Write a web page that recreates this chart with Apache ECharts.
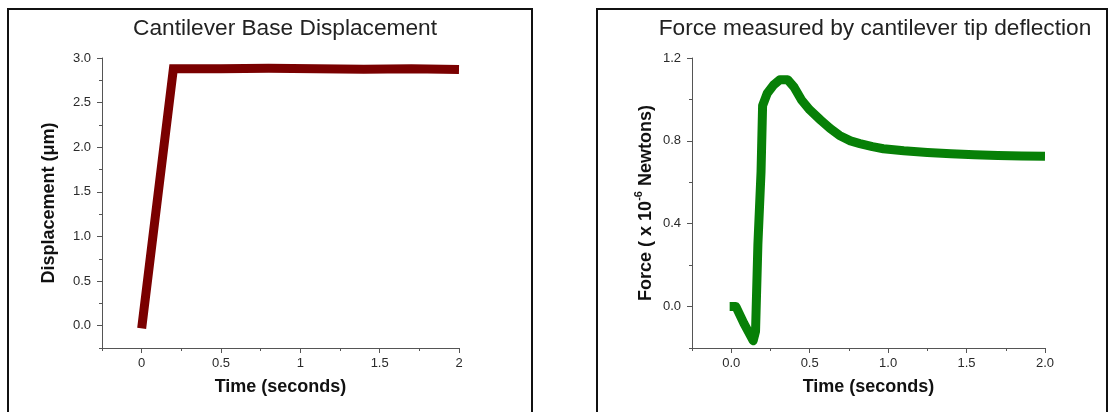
<!DOCTYPE html>
<html>
<head>
<meta charset="utf-8">
<script src="https://cdn.jsdelivr.net/npm/echarts@6/dist/echarts.min.js"></script>
<style>
html,body{margin:0;padding:0;background:#fff;}
#c{width:1118px;height:412px;}
</style>
</head>
<body>
<div id="c"></div>
<script>
// Left chart: cantilever base displacement
const timeA = [0, 0.2, 0.5, 0.8, 1.1, 1.4, 1.7, 2.0];
const dispA = [-0.03, 2.88, 2.88, 2.885, 2.88, 2.875, 2.88, 2.87];
const xTicksA = [0, 0.5, 1, 1.5, 2];
const yTicksA = [0, 0.5, 1, 1.5, 2, 2.5, 3];

// Right chart: force measured by tip deflection (x 10^-6 N)
const timeB = [-0.01, 0.03, 0.08, 0.14, 0.155, 0.17, 0.19, 0.2, 0.23, 0.27, 0.31, 0.36, 0.4, 0.45, 0.5, 0.57, 0.63, 0.69, 0.76, 0.82, 0.9, 0.97, 1.1, 1.25, 1.4, 1.55, 1.7, 1.85, 2.0];
const forceB = [0, 0, -0.08, -0.165, -0.12, 0.3, 0.65, 0.97, 1.03, 1.07, 1.095, 1.095, 1.06, 0.995, 0.95, 0.9, 0.86, 0.826, 0.8, 0.787, 0.772, 0.762, 0.752, 0.744, 0.738, 0.733, 0.729, 0.727, 0.726];
const xTicksB = [0, 0.5, 1, 1.5, 2];
const yTicksB = [0, 0.4, 0.8, 1.2];

const FONT = '"Liberation Sans", Arial, sans-serif';
const axisColor = '#555';
const labelStyle = {color: '#2a2a2a', fontSize: 13, fontFamily: FONT};
const nameStyle = {color: '#111', fontSize: 18, fontWeight: 'bold', fontFamily: FONT};

function pair(xs, ys) { return xs.map((x, i) => [x, ys[i]]); }

function mainX(grid, min, max, ticks, fmt) {
  return {
    type: 'value', gridIndex: grid, min: min, max: max, position: 'bottom',
    name: 'Time (seconds)', nameLocation: 'middle', nameGap: 30, nameTextStyle: nameStyle,
    axisLine: {show: true, onZero: false, lineStyle: {color: axisColor, width: 1}},
    axisTick: {show: true, length: 5, customValues: ticks, lineStyle: {color: axisColor}},
    axisLabel: Object.assign({customValues: ticks, margin: 9, formatter: fmt}, labelStyle),
    splitLine: {show: false}
  };
}
function minorX(grid, min, max, step) {
  return {
    type: 'value', gridIndex: grid, min: min, max: max, interval: step, position: 'bottom',
    axisLine: {show: false, onZero: false},
    axisTick: {show: true, length: 3, lineStyle: {color: axisColor}},
    axisLabel: {show: false}, splitLine: {show: false}
  };
}
function mainY(grid, min, max, ticks, name, gap, fmt) {
  return {
    type: 'value', gridIndex: grid, min: min, max: max, position: 'left',
    name: name, nameLocation: 'middle', nameGap: gap, nameRotate: 90,
    nameTextStyle: Object.assign({}, nameStyle, {
      rich: {
        n: {fontSize: 18, fontWeight: 'bold', fontFamily: FONT, color: '#111', lineHeight: 22, verticalAlign: 'bottom'},
        sup: {fontSize: 11, fontWeight: 'bold', fontFamily: FONT, color: '#111', lineHeight: 22, verticalAlign: 'top', padding: [0, 0, 8, 0]}
      }
    }),
    axisLine: {show: true, onZero: false, lineStyle: {color: axisColor, width: 1}},
    axisTick: {show: true, length: 5, customValues: ticks, lineStyle: {color: axisColor}},
    axisLabel: Object.assign({customValues: ticks, margin: 11, formatter: fmt}, labelStyle),
    splitLine: {show: false}
  };
}
function minorY(grid, min, max, step) {
  return {
    type: 'value', gridIndex: grid, min: min, max: max, interval: step, position: 'left',
    axisLine: {show: false, onZero: false},
    axisTick: {show: true, length: 3, lineStyle: {color: axisColor}},
    axisLabel: {show: false}, splitLine: {show: false}
  };
}

const fix1 = v => v.toFixed(1);

const chart = echarts.init(document.getElementById('c'), null, {renderer: 'canvas'});
chart.setOption({
  animation: false,
  backgroundColor: '#fff',
  title: [
    {text: 'Cantilever Base Displacement', left: 285, top: 17, textAlign: 'center', padding: 0,
     textStyle: {fontSize: 22.7, fontWeight: 'normal', color: '#222', fontFamily: FONT}},
    {text: 'Force measured by cantilever tip deflection', left: 875, top: 17, textAlign: 'center', padding: 0,
     textStyle: {fontSize: 22.7, fontWeight: 'normal', color: '#222', fontFamily: FONT}}
  ],
  graphic: [
    {type: 'rect', shape: {x: 8, y: 9, width: 524, height: 420}, style: {fill: 'none', stroke: '#111', lineWidth: 2}, silent: true},
    {type: 'rect', shape: {x: 597, y: 9, width: 510, height: 420}, style: {fill: 'none', stroke: '#111', lineWidth: 2}, silent: true}
  ],
  grid: [
    {left: 102, top: 58, width: 357, height: 290, containLabel: false},
    {left: 692, top: 58, width: 353, height: 290, containLabel: false}
  ],
  xAxis: [
    mainX(0, -0.25, 2, xTicksA, v => String(v)),
    minorX(0, -0.25, 2, 0.25),
    mainX(1, -0.25, 2, xTicksB, fix1),
    minorX(1, -0.25, 2, 0.25)
  ],
  yAxis: [
    mainY(0, -0.25, 3, yTicksA, 'Displacement (\u03bcm)', 44, fix1),
    minorY(0, -0.25, 3, 0.25),
    mainY(1, -0.2, 1.2, yTicksB, '{n|Force ( x 10}{sup|-6}{n| Newtons)}', 37, fix1),
    minorY(1, -0.2, 1.2, 0.2)
  ],
  series: [
    {type: 'line', xAxisIndex: 0, yAxisIndex: 0, data: pair(timeA, dispA), showSymbol: false,
     lineStyle: {color: '#7a0000', width: 9, cap: 'butt', join: 'miter'}, itemStyle: {color: '#7a0000'}},
    {type: 'line', xAxisIndex: 2, yAxisIndex: 2, data: pair(timeB, forceB), showSymbol: false,
     lineStyle: {color: '#078007', width: 9, cap: 'butt', join: 'round'}, itemStyle: {color: '#078007'}}
  ]
});
</script>
</body>
</html>
